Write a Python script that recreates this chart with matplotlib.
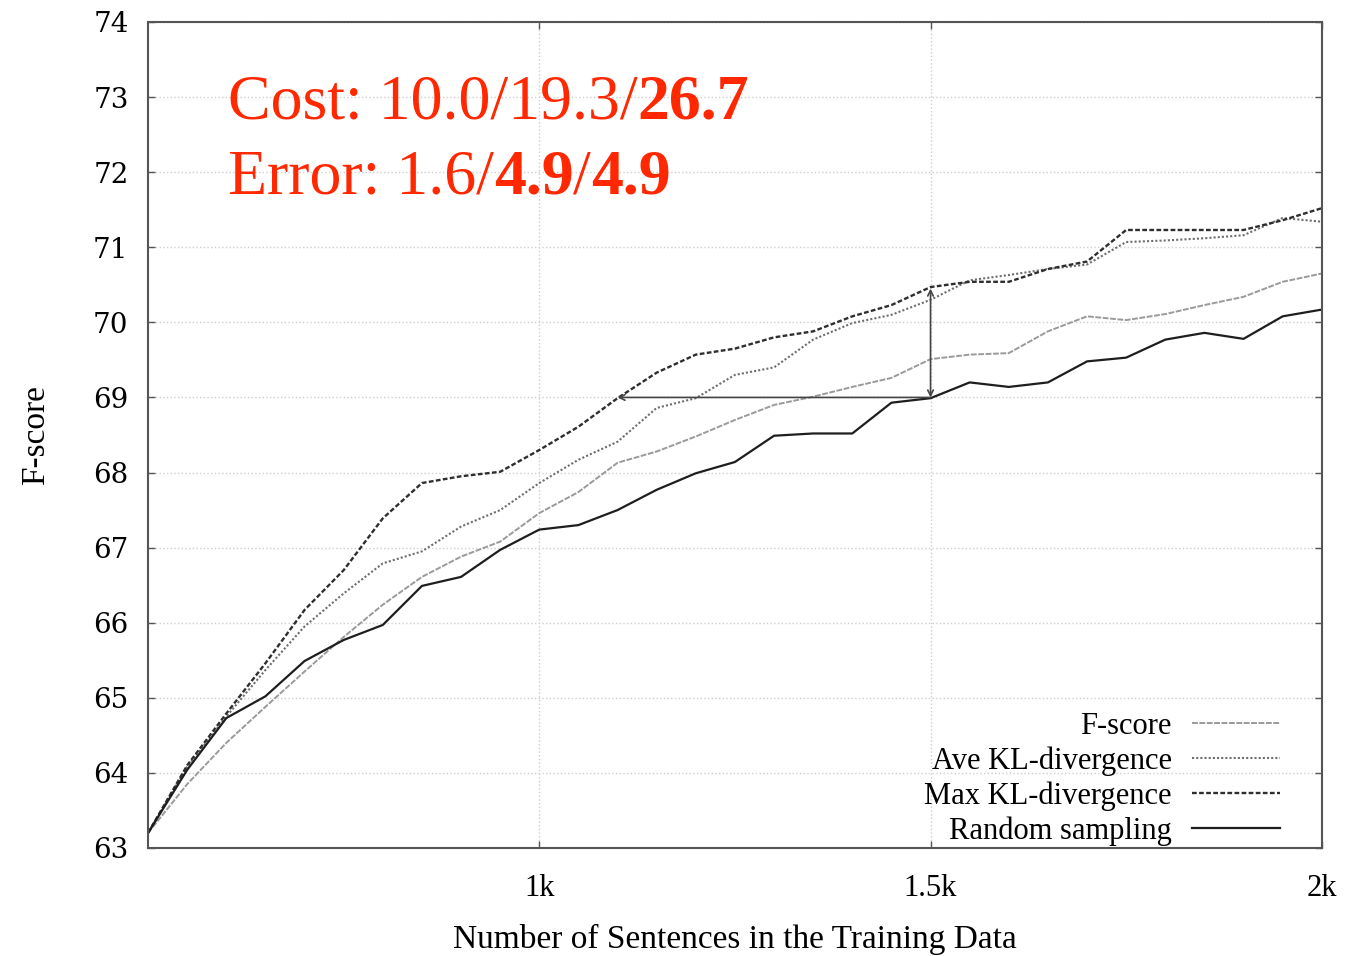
import matplotlib.pyplot as plt
import numpy as np

# Data: F-score vs number of training sentences
sentences = np.arange(500, 2001, 50)

fscore = [63.20, 63.85, 64.40, 64.88, 65.35, 65.81, 66.24, 66.61, 66.88, 67.08,
          67.46, 67.74, 68.13, 68.28, 68.48, 68.70, 68.90, 69.01, 69.14, 69.26,
          69.51, 69.57, 69.59, 69.88, 70.08, 70.03, 70.11, 70.23, 70.34, 70.54, 70.65]
ave_kl = [63.20, 64.08, 64.75, 65.37, 65.95, 66.39, 66.79, 66.95, 67.28, 67.50,
          67.86, 68.17, 68.41, 68.86, 68.99, 69.30, 69.40, 69.77, 69.99, 70.10,
          70.30, 70.56, 70.63, 70.71, 70.77, 71.07, 71.09, 71.12, 71.16, 71.39, 71.34]
max_kl = [63.20, 64.10, 64.79, 65.46, 66.17, 66.70, 67.39, 67.86, 67.95, 68.01,
          68.30, 68.61, 68.99, 69.33, 69.57, 69.65, 69.80, 69.88, 70.08, 70.23,
          70.47, 70.54, 70.54, 70.71, 70.81, 71.23, 71.23, 71.23, 71.23, 71.36, 71.52]
random_s = [63.20, 64.04, 64.73, 65.02, 65.49, 65.77, 65.97, 66.49, 66.61, 66.97,
            67.24, 67.30, 67.50, 67.77, 67.99, 68.14, 68.49, 68.52, 68.52, 68.93,
            68.99, 69.20, 69.14, 69.20, 69.48, 69.53, 69.77, 69.86, 69.78, 70.08, 70.17]

x_ticks = [1000, 1500, 2000]
x_ticklabels = ['1k', '1.5k', '2k']
y_ticks = list(range(63, 75))

# Arrows showing the saving in cost / gain in score
h_arrow = (1100, 1500, 69.0)   # x_start, x_end, y
v_arrow = (1500, 69.0, 70.45)  # x, y_start, y_end

red = '#ff2800'
serif = 'Liberation Serif'

fig = plt.figure(figsize=(13.46, 9.56), dpi=100)
ax = fig.add_axes([0.110, 0.113, 0.872, 0.864])

ax.plot(sentences, fscore, color='#9a9a9a', lw=1.4, ls=(0, (3, 0.8)), label='F-score')
ax.plot(sentences, ave_kl, color='#6e6e6e', lw=1.5, ls=(0, (1, 1)), label='Ave KL-divergence')
ax.plot(sentences, max_kl, color='#2e2e2e', lw=1.7, ls=(0, (2, 1)), label='Max KL-divergence')
ax.plot(sentences, random_s, color='#1e1e1e', lw=1.6, ls='-', label='Random sampling')

ax.annotate('', xy=(h_arrow[0], h_arrow[2]), xytext=(h_arrow[1], h_arrow[2]),
            arrowprops=dict(arrowstyle='->', color='#444444', lw=1.2, shrinkA=0, shrinkB=0))
ax.annotate('', xy=(v_arrow[0], v_arrow[2]), xytext=(v_arrow[0], v_arrow[1]),
            arrowprops=dict(arrowstyle='<->', color='#444444', lw=1.2, shrinkA=0, shrinkB=0))

ax.set_xlim(500, 2000)
ax.set_ylim(63, 74)
ax.set_xticks(x_ticks)
ax.set_xticklabels(x_ticklabels, fontfamily=serif, fontsize=22)
ax.set_yticks(y_ticks)
ax.set_yticklabels([str(v) for v in y_ticks], fontfamily='DejaVu Serif', fontsize=20)
ax.tick_params(direction='in', length=5, width=1, color='#555555', top=True, right=True)
ax.tick_params(axis='y', pad=14)
ax.tick_params(axis='x', pad=19)

ax.grid(True, color='#cfcfcf', ls=':', lw=1)
for s in ax.spines.values():
    s.set_color('#555555')
    s.set_linewidth(1.5)

ax.set_xlabel('Number of Sentences in the Training Data', fontfamily=serif, fontsize=24, labelpad=15)
ax.set_ylabel('F-score', fontfamily=serif, fontsize=24, labelpad=30)

leg = ax.legend(loc='lower right', frameon=False, markerfirst=False,
                prop={'family': serif, 'size': 22}, handlelength=2.9,
                labelspacing=0.18, handletextpad=0.65,
                borderaxespad=0.0, bbox_to_anchor=(0.975, -0.012))

# Red annotation with bold parts
fs_red = 46
t1 = ax.text(0.068, 0.866, 'Cost: 10.0/19.3/', transform=ax.transAxes, color=red,
             fontfamily=serif, fontsize=fs_red, va='bottom')
ax.annotate('26.7', xy=(1, 0), xycoords=t1, color=red, fontfamily=serif,
            fontsize=fs_red, fontweight='bold', va='bottom')
t2 = ax.text(0.068, 0.775, 'Error: 1.6/', transform=ax.transAxes, color=red,
             fontfamily=serif, fontsize=fs_red, va='bottom')
t3 = ax.annotate('4.9', xy=(1, 0), xycoords=t2, color=red, fontfamily=serif,
                 fontsize=fs_red, fontweight='bold', va='bottom')
t4 = ax.annotate('/', xy=(1, 0), xycoords=t3, color=red, fontfamily=serif,
                 fontsize=fs_red, va='bottom')
ax.annotate('4.9', xy=(1, 0), xycoords=t4, color=red, fontfamily=serif,
            fontsize=fs_red, fontweight='bold', va='bottom')

fig.savefig('out.png', dpi=100)
